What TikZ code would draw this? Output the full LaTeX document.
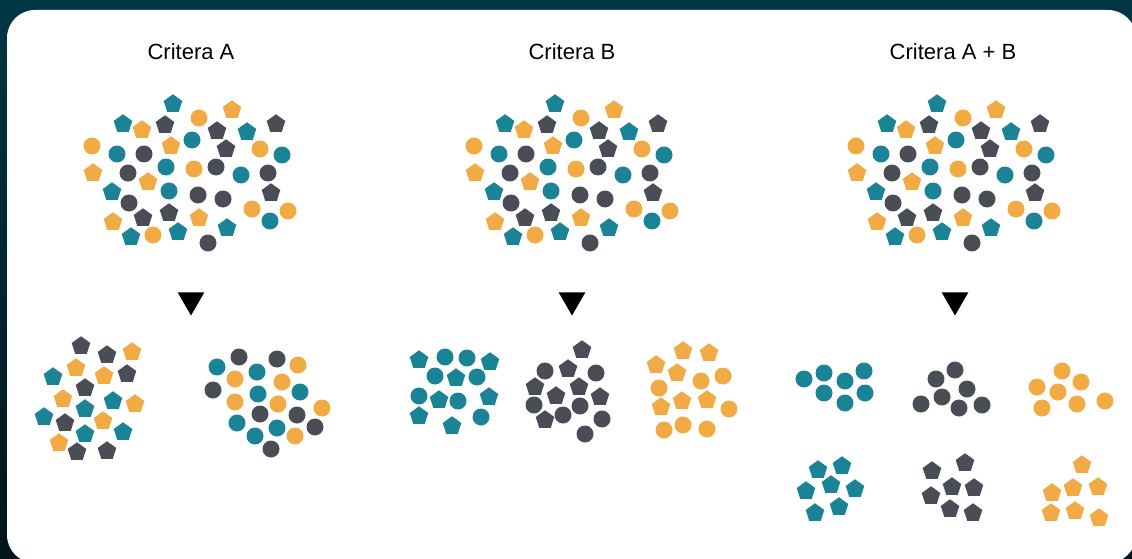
\documentclass[tikz,border=0pt]{standalone}
\usepackage{fontspec}
\setmainfont{Liberation Sans}
\usetikzlibrary{shapes.geometric}

\definecolor{bgtop}{HTML}{013744}
\definecolor{bgbot}{HTML}{03141A}
\definecolor{shteal}{HTML}{1A8496}
\definecolor{shgray}{HTML}{4A4D55}
\definecolor{shorange}{HTML}{F2AA44}

\begin{document}
\begin{tikzpicture}[
  x=1pt, y=-1pt,
  dot/.style={circle, inner sep=0pt, minimum size=17pt},
  pent/.style={regular polygon, regular polygon sides=5, inner sep=0pt, minimum size=19.5pt},
  T/.style={fill=shteal},
  G/.style={fill=shgray},
  O/.style={fill=shorange},
  drop/.style={regular polygon, regular polygon sides=3, shape border rotate=180,
               fill=black, inner sep=0pt, minimum size=31pt},
  title/.style={font=\fontsize{22}{26}\selectfont, anchor=base}
]
\useasboundingbox (0,0) rectangle (1132,559);
\clip (0,0) rectangle (1132,559);

% Frame
\shade[top color=bgtop, bottom color=bgbot] (0,0) rectangle (1132,559);
\fill[white, rounded corners=28pt] (7,10) rectangle (1136,563);

% Titles
\node[title] (ta) at (191,60)  {Critera A};
\node[title] (tb) at (572,60)  {Critera B};
\node[title] (tc) at (953,60)  {Critera A + B};

% Mixed sets (same set in every column)
\foreach \col/\dx in {a/0, b/382, c/764}
  \foreach \x/\y/\s/\c [count=\i] in {
    173/104/pent/T, 199/118/dot/O, 232/110/pent/O, 123/124/pent/T, 142/130/pent/O,
    165/125/pent/G, 276/124/pent/G, 217/131/pent/G, 247/132/pent/T, 192/140/dot/T,
    92/146/dot/O, 171/146/pent/O, 226/149/pent/G, 260/149/dot/O, 117/154/dot/T,
    144/154/dot/G, 282/155/dot/T, 166/167/dot/T, 194/169/dot/O, 216/167/dot/G,
    93/173/pent/O, 128/173/dot/G, 241/175/dot/T, 268/173/dot/G, 148/182/pent/O,
    112/192/pent/T, 169/191/dot/T, 198/195/dot/G, 223/199/dot/G, 271/193/pent/G,
    129/203/dot/G, 252/209/dot/O, 288/211/dot/O, 143/218/pent/G, 169/213/pent/G,
    199/218/pent/O, 270/221/dot/T, 113/222/pent/O, 227/228/pent/T, 131/237/pent/T,
    153/235/dot/O, 178/232/pent/T, 208/243/dot/G}
    \node[\s, \c] (\col\i) at (\x+\dx, \y) {};

% Arrows
\node[drop] (da) at (191,300) {};
\node[drop] (db) at (572,300) {};
\node[drop] (dc) at (955,300) {};

% Critera A: by shape
\foreach \x/\y/\s/\c [count=\i] in {
    81/346/pent/G, 107/355/pent/G, 132/352/pent/O, 76/368/pent/O, 53/377/pent/T,
    104/376/pent/O, 127/374/pent/G, 85/388/pent/G, 63/399/pent/O, 113/401/pent/T,
    135/404/pent/O, 85/409/pent/T, 44/417/pent/T, 65/423/pent/G, 103/421/pent/O,
    85/434/pent/T, 123/432/pent/T, 59/443/pent/O, 77/452/pent/G, 107/451/pent/G,
    217/367/dot/T, 239/357/dot/G, 277/359/dot/G, 298/365/dot/O, 235/379/dot/O,
    257/372/dot/T, 282/382/dot/O, 213/390/dot/G, 258/394/dot/T, 300/392/dot/T,
    235/402/dot/O, 278/404/dot/O, 322/408/dot/O, 260/414/dot/G, 297/415/dot/G,
    237/423/dot/T, 277/428/dot/T, 315/427/dot/G, 255/436/dot/T, 295/436/dot/O,
    271/449/dot/G}
  \node[\s, \c] (sa\i) at (\x,\y) {};

% Critera B: by colour
\foreach \x/\y/\s/\c [count=\i] in {
    419/360/pent/T, 445/357/dot/T, 467/358/dot/T, 490/362/pent/T, 435/376/dot/T,
    456/378/pent/T, 477/377/dot/T, 419/396/dot/T, 439/400/pent/T, 458/401/dot/T,
    489/397/pent/T, 419/416/pent/T, 481/417/dot/T, 452/426/pent/T,
    582/350/pent/G, 545/371/dot/G, 568/369/pent/G, 596/373/dot/G, 535/387/pent/G,
    556/396/pent/G, 579/387/pent/G, 600/397/pent/G, 534/405/dot/G, 580/406/dot/G,
    563/415/dot/G, 545/420/pent/G, 602/419/dot/G, 585/434/dot/G,
    683/351/pent/O, 709/353/pent/O, 656/365/pent/O, 677/373/pent/O, 723/376/dot/O,
    701/381/dot/O, 659/388/dot/O, 661/407/pent/O, 682/401/pent/O, 707/400/pent/O,
    729/409/dot/O, 664/430/dot/O, 683/425/dot/O, 707/429/dot/O}
  \node[\s, \c] (sb\i) at (\x,\y) {};

% Critera A + B: by shape and colour
\foreach \x/\y/\s/\c [count=\i] in {
    804/379/dot/T, 824/373/dot/T, 845/381/dot/T, 864/371/dot/T, 824/393/dot/T,
    845/403/dot/T, 865/393/dot/T,
    955/370/dot/G, 936/379/dot/G, 967/389/dot/G, 942/397/dot/G, 921/404/dot/G,
    959/408/dot/G, 982/405/dot/G,
    1062/371/dot/O, 1081/382/dot/O, 1037/387/dot/O, 1058/392/dot/O, 1042/408/dot/O,
    1077/404/dot/O, 1105/401/dot/O,
    818/470/pent/T, 842/466/pent/T, 806/491/pent/T, 831/485/pent/T, 855/489/pent/T,
    815/513/pent/T, 839/507/pent/T,
    932/471/pent/G, 965/463/pent/G, 952/487/pent/G, 974/488/pent/G, 931/496/pent/G,
    950/509/pent/G, 973/513/pent/G,
    1082/465/pent/O, 1073/488/pent/O, 1098/487/pent/O, 1052/493/pent/O, 1075/511/pent/O,
    1051/513/pent/O, 1099/518/pent/O}
  \node[\s, \c] (sc\i) at (\x,\y) {};

\end{tikzpicture}
\end{document}
